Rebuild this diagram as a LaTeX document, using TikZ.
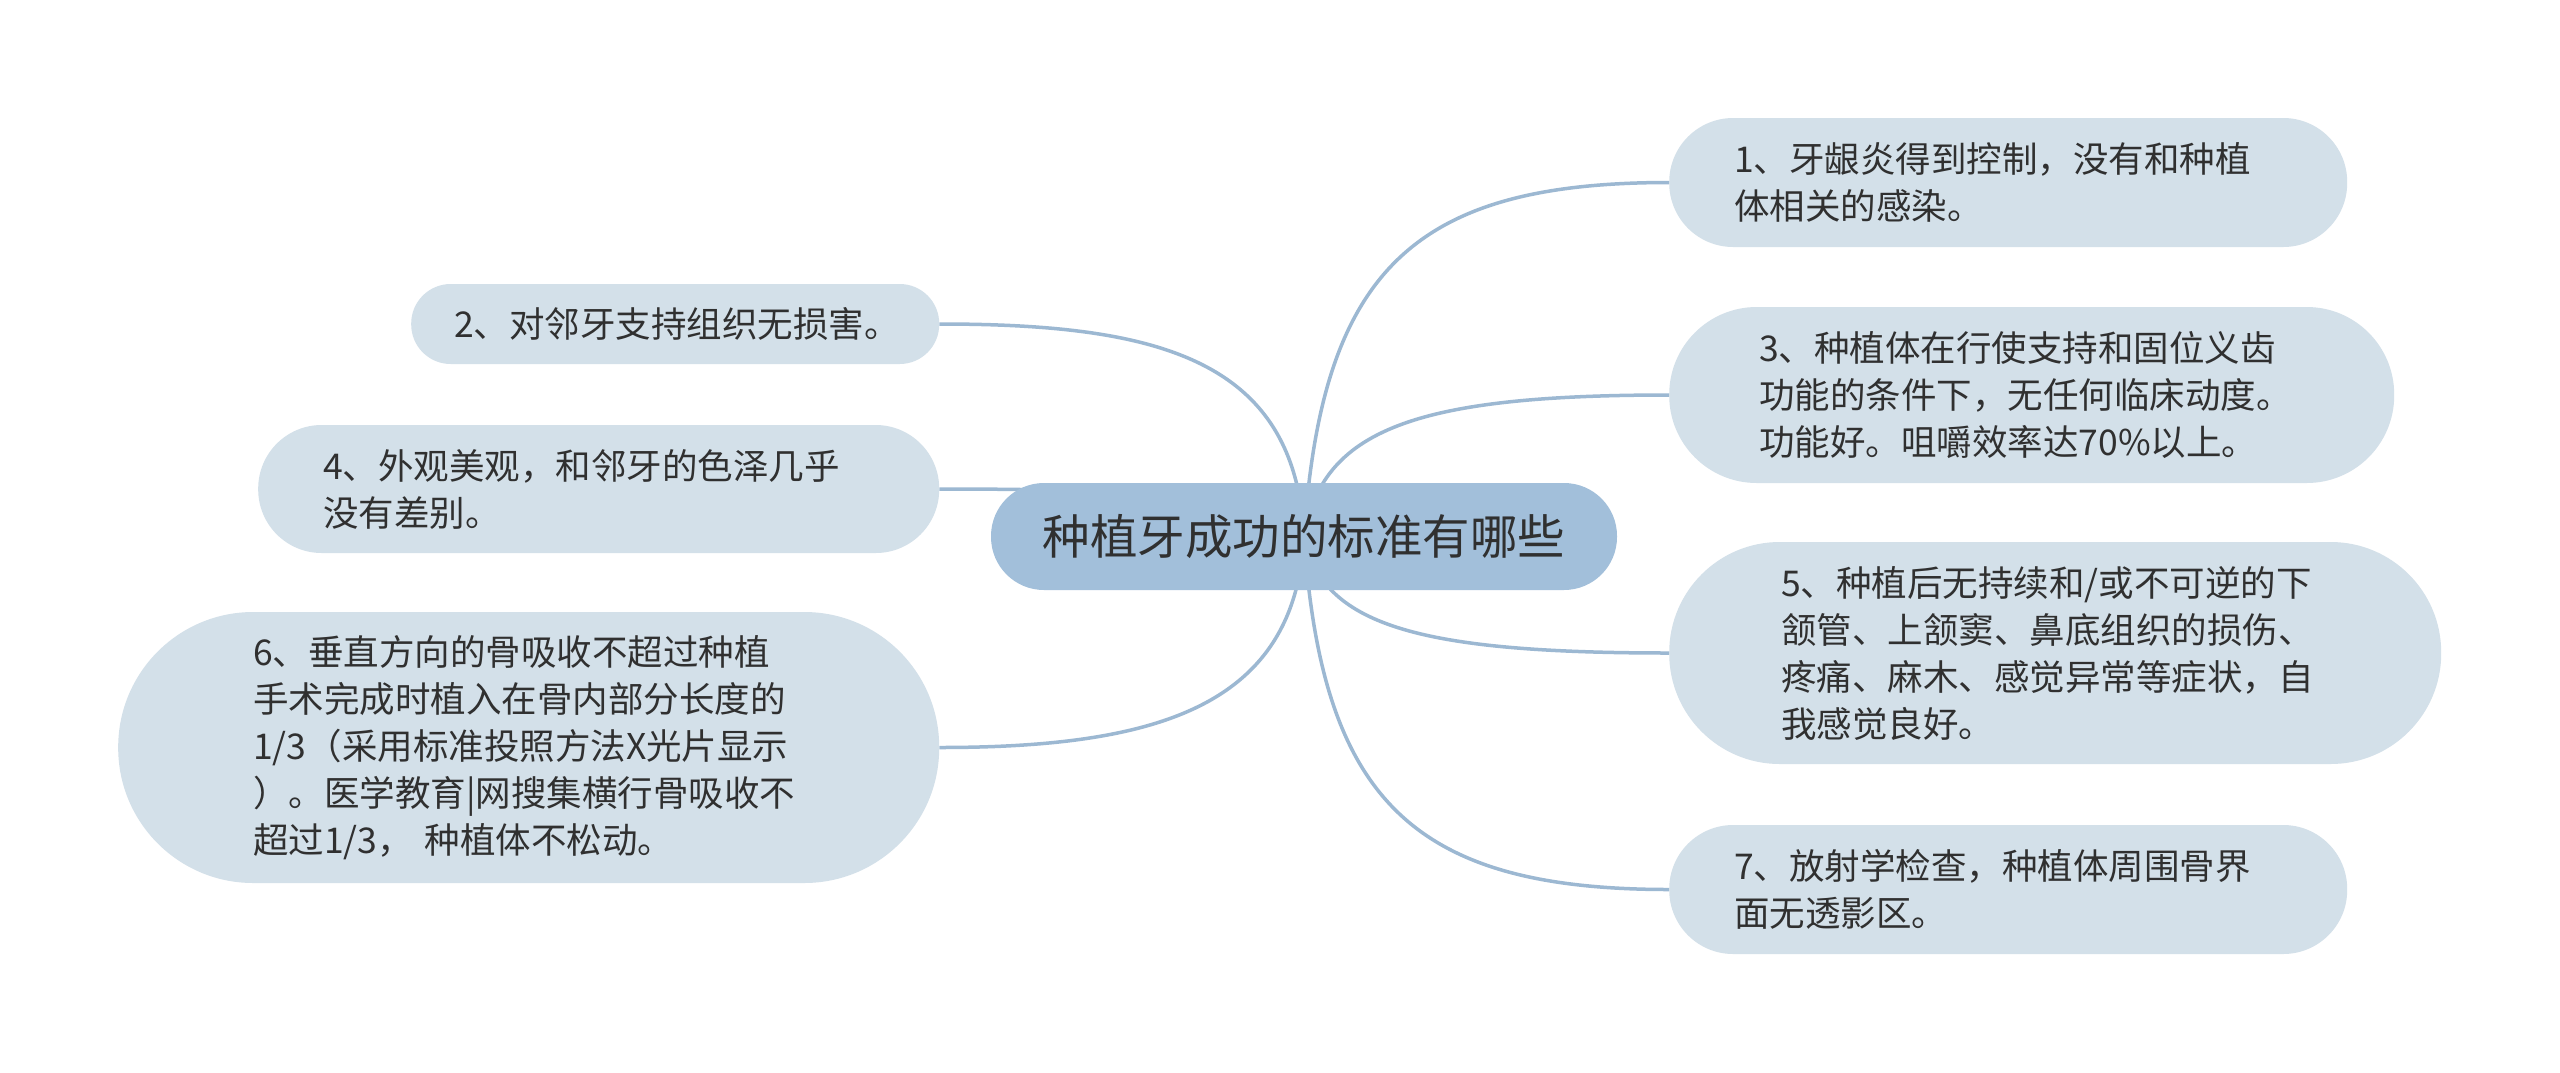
\documentclass[tikz,border=0pt]{standalone}
\usepackage{fontspec}
\setmainfont{Noto Sans CJK SC}
\definecolor{rootc}{HTML}{A2BFDA}
\definecolor{leafc}{HTML}{D3E0E9}
\definecolor{edgec}{HTML}{9CB8D2}
\definecolor{txtc}{HTML}{303030}
\pgfdeclarelayer{back}
\pgfdeclarelayer{edges}
\pgfsetlayers{back,edges,main}
\begin{document}
\begin{tikzpicture}[x=1pt,y=-1pt,
  leaf/.style={fill=leafc, text=txtc, align=left, anchor=west,
    font=\fontsize{35.5}{47}\selectfont, inner ysep=0pt},
  conn/.style={draw=edgec, line width=3.5pt}]
\begin{pgfonlayer}{back}
\fill[white] (0,0) rectangle (2560,1072);
\end{pgfonlayer}
\useasboundingbox (0,0) rectangle (2560,1072);

\node[fill=rootc, text=txtc, rounded corners=53pt, minimum width=626pt,
  minimum height=107pt, inner sep=0pt, font=\fontsize{47.5}{56}\selectfont]
  (root) at (1304,536.5) {种植牙成功的标准有哪些};

\node[leaf, text width=548pt, inner xsep=65pt, minimum height=129pt, rounded corners=64pt]
  (n1) at (1669,182.5) {1、牙龈炎得到控制，没有和种植\\体相关的感染。};
\node[leaf, text width=545pt, inner xsep=90pt, minimum height=176pt, rounded corners=87.5pt]
  (n3) at (1669,395) {3、种植体在行使支持和固位义齿\\功能的条件下，无任何临床动度。\\功能好。咀嚼效率达70\%以上。};
\node[leaf, text width=548pt, inner xsep=112pt, minimum height=222pt, rounded corners=110.5pt]
  (n5) at (1669,653) {5、种植后无持续和/或不可逆的下\\颔管、上颔窦、鼻底组织的损伤、\\疼痛、麻木、感觉异常等症状，自\\我感觉良好。};
\node[leaf, text width=548pt, inner xsep=65pt, minimum height=129pt, rounded corners=64pt]
  (n7) at (1669,889.5) {7、放射学检查，种植体周围骨界\\面无透影区。};

\node[leaf, text width=442pt, inner xsep=43pt, minimum height=80pt, rounded corners=39.5pt]
  (n2) at (411,324) {2、对邻牙支持组织无损害。};
\node[leaf, text width=551pt, inner xsep=65pt, minimum height=128pt, rounded corners=63.5pt]
  (n4) at (258,489) {4、外观美观，和邻牙的色泽几乎\\没有差别。};
\node[leaf, text width=551pt, inner xsep=135pt, minimum height=271pt, rounded corners=135pt]
  (n6) at (118,747.5) {6、垂直方向的骨吸收不超过种植\\手术完成时植入在骨内部分长度的\\1/3（采用标准投照方法X光片显示\\）。医学教育|网搜集横行骨吸收不\\超过1/3， 种植体不松动。};

\begin{pgfonlayer}{edges}
\draw[conn] (root.center) .. controls (1322,270) and (1414,182.5) .. (n1.west);
\draw[conn] (root.center) .. controls (1322,430) and (1414,395) .. (n3.west);
\draw[conn] (root.center) .. controls (1322,624) and (1414,653) .. (n5.west);
\draw[conn] (root.center) .. controls (1322,801) and (1414,889.5) .. (n7.west);
\draw[conn] (root.center) .. controls (1295,360) and (1160,324) .. (n2.east);
\draw[conn] (root.center) .. controls (1295,498) and (1160,489) .. (n4.east);
\draw[conn] (root.center) .. controls (1295,705) and (1160,747.5) .. (n6.east);
\end{pgfonlayer}
\end{tikzpicture}
\end{document}
